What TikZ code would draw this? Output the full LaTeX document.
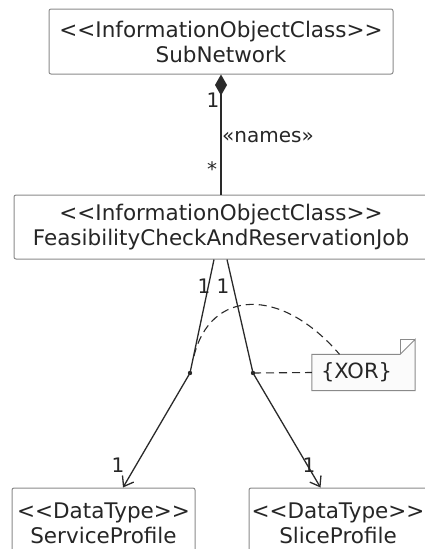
\documentclass[tikz,border=0pt]{standalone}
\usepackage{fontspec}
\setmainfont{DejaVu Sans}
\usetikzlibrary{arrows.meta}
\definecolor{boxline}{HTML}{8A8A8A}
\definecolor{wire}{HTML}{2A2A2A}
\definecolor{notefill}{HTML}{FBFBFB}
\tikzset{
  umlbox/.style={draw=boxline, fill=white, rounded corners=2pt, line width=1pt,
    align=center, inner sep=0pt, text=black!85, font=\fontsize{21.5}{25}\selectfont},
  mult/.style={font=\fontsize{20}{23}\selectfont, inner sep=0pt, text=black!85},
  wireline/.style={draw=wire, line width=1.3pt}
}
\begin{document}
\begin{tikzpicture}[x=1pt,y=-1pt]
    \useasboundingbox (0,0) rectangle (425,549);
    % classes
    \node[umlbox, minimum width=344, minimum height=65] (subnet) at (221,41.5)
        {<{}<{}InformationObjectClass>{}>\\SubNetwork};
    \node[umlbox, minimum width=414, minimum height=64] (job) at (221,227)
        {<{}<{}InformationObjectClass>{}>\\FeasibilityCheckAndReservationJob};
    \node[umlbox, minimum width=183, minimum height=70] (svc) at (103.5,523)
        {<{}<{}DataType>{}>\\ServiceProfile};
    \node[umlbox, minimum width=183, minimum height=70] (slice) at (340.5,523)
        {<{}<{}DataType>{}>\hspace*{5pt}\\SliceProfile\hspace*{5pt}};
    % composition
    \draw[wireline, {Diamond[length=21pt,width=12pt]}-] (subnet.south) -- (job.north);
    \node[mult] (m1) at (213,100) {1};
    \node[mult, anchor=west] (names) at (222,137) {«names»};
    \node[mult] (m2) at (212,169) {*};
    % the two profiles
    \coordinate (jl) at (190,373);
    \coordinate (jr) at (253,373);
    \draw[wireline, -{Straight Barb[length=9pt,width=13pt]}]
        ([xshift=-7]job.south) -- (jl) -- ([xshift=19.5]svc.north);
    \draw[wireline, -{Straight Barb[length=9pt,width=13pt]}]
        ([xshift=6]job.south) -- (jr) -- ([xshift=-20]slice.north);
    \fill[wire] (jl) circle (2.2pt);
    \fill[wire] (jr) circle (2.2pt);
    \node[mult] (m3) at (204,286) {1};
    \node[mult] (m4) at (223,286) {1};
    \node[mult] (m5) at (118,465) {1};
    \node[mult] (m6) at (309,465) {1};
    % note
    \node[inner sep=0pt, minimum width=103, minimum height=36] (xor) at (363.5,372.5) {};
    \draw[boxline, fill=notefill, line width=1pt]
        (xor.north west) -- ([xshift=-15]xor.north east) -- ([yshift=15]xor.north east)
        -- (xor.south east) -- (xor.south west) -- cycle;
    \draw[boxline, line width=1pt]
        ([xshift=-15]xor.north east) -- ([xshift=-15,yshift=15]xor.north east) -- ([yshift=15]xor.north east);
    \node[mult, font=\fontsize{21}{24}\selectfont] (xortext) at ([xshift=-7]xor.center) {\{XOR\}};
    \draw[wire, dashed, dash pattern=on 8pt off 5pt, line width=1.1pt]
        (jr) -- (xor.west);
    \draw[wire, dashed, dash pattern=on 8pt off 5pt, line width=1.1pt]
        (194,356) .. controls (210,290) and (280,285) .. ([xshift=-24]xor.north);
\end{tikzpicture}
\end{document}
